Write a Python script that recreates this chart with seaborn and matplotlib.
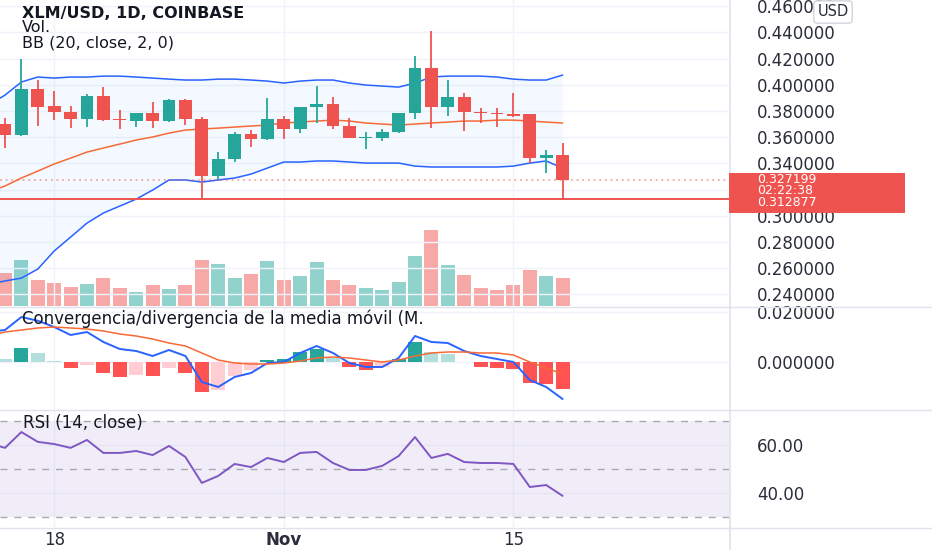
import numpy as np
import pandas as pd
import matplotlib
matplotlib.use("Agg")
import matplotlib.pyplot as plt
import seaborn as sns
from matplotlib.lines import Line2D
from matplotlib.patches import Rectangle

# ---------------- data ----------------
dates = [d.strftime("%Y-%m-%d") for d in pd.date_range("2021-10-15", "2021-11-18")]
ind_dates = ["2021-10-14"] + dates          # indicator series start one day earlier

opens = [0.3700, 0.3616, 0.3967, 0.3837, 0.3792, 0.3738, 0.3914, 0.3738, 0.3723, 0.3784,
         0.3723, 0.3883, 0.3738, 0.3303, 0.3433, 0.3624, 0.3586, 0.3738, 0.3662, 0.3830,
         0.3853, 0.3685, 0.3593, 0.3593, 0.3639, 0.3784, 0.4127, 0.3830, 0.3906, 0.3792,
         0.3784, 0.3776, 0.3776, 0.3441, 0.3463]
highs = [0.3746, 0.4200, 0.4036, 0.3952, 0.3837, 0.3929, 0.3982, 0.3807, 0.3784, 0.3868,
         0.3890, 0.3890, 0.3753, 0.3486, 0.3639, 0.3654, 0.3898, 0.3761, 0.3830, 0.3990,
         0.3906, 0.3746, 0.3639, 0.3662, 0.3784, 0.4219, 0.4410, 0.4036, 0.3937, 0.3822,
         0.3822, 0.3937, 0.3776, 0.3502, 0.3555]
lows = [0.3517, 0.3610, 0.3685, 0.3731, 0.3670, 0.3677, 0.3723, 0.3662, 0.3677, 0.3670,
        0.3715, 0.3692, 0.3129, 0.3272, 0.3410, 0.3525, 0.3578, 0.3586, 0.3631, 0.3708,
        0.3662, 0.3593, 0.3509, 0.3570, 0.3631, 0.3738, 0.3670, 0.3761, 0.3647, 0.3708,
        0.3677, 0.3753, 0.3402, 0.3326, 0.3129]
closes = [0.3616, 0.3967, 0.3830, 0.3792, 0.3738, 0.3914, 0.3731, 0.3728, 0.3784, 0.3723,
          0.3883, 0.3738, 0.3303, 0.3433, 0.3624, 0.3586, 0.3738, 0.3662, 0.3830, 0.3853,
          0.3685, 0.3593, 0.3600, 0.3639, 0.3784, 0.4127, 0.3830, 0.3906, 0.3792, 0.3784,
          0.3776, 0.3761, 0.3441, 0.3463, 0.3272]
volume_m = [66, 92, 52, 46, 38, 44, 56, 36, 28, 42, 34, 42, 92, 84, 56, 64, 90, 52, 60, 88,
            52, 42, 36, 32, 48, 100, 152, 82, 62, 36, 32, 42, 72, 60, 56]

bb_upper = [0.3845, 0.3921, 0.4021, 0.4059, 0.4051, 0.4059, 0.4059, 0.4066, 0.4066, 0.4059,
            0.4051, 0.4043, 0.4036, 0.4036, 0.4043, 0.4043, 0.4036, 0.4028, 0.4013, 0.4028,
            0.4036, 0.4036, 0.4013, 0.3998, 0.3990, 0.3982, 0.4013, 0.4059, 0.4066, 0.4066,
            0.4066, 0.4059, 0.4043, 0.4036, 0.4036, 0.4074]
bb_basis = [0.3181, 0.3227, 0.3288, 0.3341, 0.3395, 0.3440, 0.3486, 0.3517, 0.3547, 0.3578,
            0.3601, 0.3631, 0.3654, 0.3662, 0.3669, 0.3677, 0.3685, 0.3692, 0.3708, 0.3715,
            0.3723, 0.3730, 0.3723, 0.3708, 0.3700, 0.3692, 0.3700, 0.3708, 0.3715, 0.3723,
            0.3723, 0.3730, 0.3730, 0.3723, 0.3715, 0.3708]
bb_lower = [0.2479, 0.2502, 0.2524, 0.2593, 0.2731, 0.2837, 0.2944, 0.3021, 0.3074, 0.3127,
            0.3196, 0.3273, 0.3273, 0.3257, 0.3273, 0.3288, 0.3318, 0.3364, 0.3410, 0.3410,
            0.3418, 0.3418, 0.3410, 0.3402, 0.3402, 0.3402, 0.3379, 0.3372, 0.3372, 0.3372,
            0.3372, 0.3372, 0.3379, 0.3402, 0.3418, 0.3364]

macd_line = [0.0120, 0.0128, 0.0180, 0.0165, 0.0140, 0.0108, 0.0120, 0.0080, 0.0052, 0.0044,
             0.0024, 0.0048, 0.0024, -0.0080, -0.0100, -0.0060, -0.0044, -0.0004, 0.0000, 0.0036,
             0.0064, 0.0036, -0.0004, -0.0020, -0.0020, 0.0016, 0.0104, 0.0080, 0.0076, 0.0044,
             0.0024, 0.0012, 0.0000, -0.0072, -0.0100, -0.0148]
macd_signal = [0.0104, 0.0120, 0.0128, 0.0136, 0.0140, 0.0136, 0.0132, 0.0124, 0.0112, 0.0104,
               0.0092, 0.0076, 0.0064, 0.0036, 0.0008, -0.0004, -0.0008, -0.0008, -0.0004, 0.0004,
               0.0016, 0.0020, 0.0016, 0.0008, 0.0000, 0.0008, 0.0024, 0.0036, 0.0040, 0.0040,
               0.0036, 0.0036, 0.0028, 0.0000, -0.0024, -0.0048]
macd_hist = [0.0020, 0.0012, 0.0056, 0.0036, 0.0004, -0.0024, -0.0012, -0.0044, -0.0060, -0.0052,
             -0.0056, -0.0024, -0.0044, -0.0120, -0.0112, -0.0056, -0.0032, 0.0008, 0.0012, 0.0040,
             0.0052, 0.0016, -0.0020, -0.0032, -0.0020, 0.0012, 0.0080, 0.0040, 0.0032, 0.0002,
             -0.0020, -0.0024, -0.0028, -0.0084, -0.0088, -0.0108]
rsi_values = [60.8, 58.8, 65.4, 61.3, 60.4, 58.8, 62.1, 56.7, 56.7, 57.5,
              55.8, 59.6, 55.0, 44.2, 47.1, 52.1, 50.8, 54.6, 52.9, 56.7,
              57.1, 52.5, 49.6, 49.6, 51.3, 55.4, 63.3, 54.6, 56.3, 52.9,
              52.5, 52.5, 52.1, 42.5, 43.3, 38.8]

price_ticks = [0.24, 0.26, 0.28, 0.30, 0.32, 0.34, 0.36, 0.38, 0.40, 0.42, 0.44, 0.46]
hidden_price_ticks = [0.32]   # covered by the last-price tag in the reference
macd_ticks = [0.0, 0.02]
rsi_ticks = [40, 60]
rsi_levels = [30, 50, 70]
date_tick_days = ["2021-10-18", "2021-11-01", "2021-11-15"]
date_tick_labels = ["18", "Nov", "15"]
last_price = 0.327199
countdown = "02:22:38"
marked_level = 0.312877

title_text = "XLM/USD, 1D, COINBASE"
vol_text = "Vol."
bb_text = "BB (20, close, 2, 0)"
macd_text = "Convergencia/divergencia de la media móvil (M."
rsi_text = "RSI (14, close)"
currency_text = "USD"

# ---------------- styling ----------------
sns.set_theme(style="white")
plt.rcParams["font.family"] = ["DejaVu Sans"]
plt.rcParams["axes.unicode_minus"] = False

GREEN, RED = "#26a69a", "#ef5350"
VOL_GREEN, VOL_RED = "#92d2cc", "#f7a9a7"
BLUE, ORANGE, PURPLE = "#2962FF", "#F76A35", "#7E57C2"
GRID, SEP, TXT = "#f0f3fa", "#e0e3eb", "#131722"

W, H = 932, 550
fig = plt.figure(figsize=(W / 100, H / 100), dpi=100)
fig.patch.set_facecolor("white")

def fx(px):
    return px / W

def fy(py):
    return 1 - py / H

pane_right = 729
ax_main = fig.add_axes([0, fy(306), fx(pane_right), 306 / H])
ax_macd = fig.add_axes([0, fy(409), fx(pane_right), 102 / H])
ax_rsi = fig.add_axes([0, fy(527), fx(pane_right), 117 / H])

x = np.arange(len(dates))
xi = np.arange(-1, len(dates))
tick_x = [dates.index(d) for d in date_tick_days]
day_px = 16.4
x_left = -5 / day_px
x_right = x_left + pane_right / day_px

o = np.array(opens); c = np.array(closes)
hgh = np.array(highs); lw_ = np.array(lows)
up = c >= o

# ---- main pane: volume overlay ----
ax_vol = ax_main.twinx()
ax_main.set_zorder(2)
ax_vol.set_zorder(1)
ax_main.patch.set_visible(False)
ax_vol.bar(x, volume_m, width=0.85, color=np.where(up, VOL_GREEN, VOL_RED), linewidth=0)
ax_vol.set_ylim(0, 612)
ax_vol.axis("off")

# ---- Bollinger bands ----
ax_main.fill_between(xi, bb_lower, bb_upper, color="#2196F3", alpha=0.05, linewidth=0)
sns.lineplot(x=xi, y=bb_upper, ax=ax_main, color=BLUE, linewidth=1.1, legend=False)
sns.lineplot(x=xi, y=bb_basis, ax=ax_main, color=ORANGE, linewidth=1.1, legend=False)
sns.lineplot(x=xi, y=bb_lower, ax=ax_main, color=BLUE, linewidth=1.1, legend=False)

# ---- candles ----
cc = np.where(up, GREEN, RED)
ax_main.vlines(x, lw_, hgh, colors=cc, linewidth=1.3, zorder=3)
body_bottom = np.minimum(o, c)
body_h = np.maximum(np.abs(c - o), 0.0008)
ax_main.bar(x, body_h, bottom=body_bottom, width=0.78, color=cc, linewidth=0, zorder=4)

ax_main.axhline(last_price, color=RED, linestyle=(0, (1.2, 2.5)), linewidth=1.1, alpha=0.6, zorder=2)
ax_main.axhline(marked_level, color=RED, linewidth=1.4, zorder=2)

ax_main.set_ylim(0.2311, 0.4647)
ax_main.set_yticks(price_ticks)
ax_main.set_yticklabels(["" if v in hidden_price_ticks else f"{v:.6f}" for v in price_ticks])

# ---- MACD pane ----
hist = np.array(macd_hist)
prev = np.concatenate([[hist[0]], hist[:-1]])
hist_colors = np.where(hist >= 0,
                       np.where(hist > prev, "#26A69A", "#B2DFDB"),
                       np.where(hist > prev, "#FFCDD2", "#FF5252"))
ax_macd.bar(xi, macd_hist, width=0.85, color=hist_colors, linewidth=0)
sns.lineplot(x=xi, y=macd_line, ax=ax_macd, color=BLUE, linewidth=1.4, legend=False)
sns.lineplot(x=xi, y=macd_signal, ax=ax_macd, color=ORANGE, linewidth=1.1, legend=False)
ax_macd.set_ylim(-0.0188, 0.0220)
ax_macd.set_yticks(macd_ticks)
ax_macd.set_yticklabels([f"{v:.6f}" for v in macd_ticks])

# ---- RSI pane ----
ax_rsi.axhspan(min(rsi_levels), max(rsi_levels), color=PURPLE, alpha=0.1, linewidth=0)
for lvl in rsi_levels:
    ax_rsi.axhline(lvl, color="#9598a1", linewidth=1, linestyle=(0, (5, 5)), alpha=0.8)
sns.lineplot(x=xi, y=rsi_values, ax=ax_rsi, color=PURPLE, linewidth=1.4, legend=False)
ax_rsi.set_ylim(25.83, 74.58)
ax_rsi.set_yticks(rsi_ticks)
ax_rsi.set_yticklabels([f"{v:.2f}" for v in rsi_ticks])

# ---- common axis styling ----
for ax in (ax_main, ax_macd, ax_rsi):
    ax.set_xlim(x_left, x_right)
    ax.set_xticks(tick_x)
    ax.grid(True, color=GRID, linewidth=1)
    ax.set_axisbelow(True)
    for s in ax.spines.values():
        s.set_visible(False)
    ax.yaxis.tick_right()
    ax.tick_params(axis="y", length=0, pad=20, labelsize=12, labelcolor="#2a2e39",
                   left=False, labelleft=False, right=False, labelright=True)
    ax.tick_params(axis="x", length=0, bottom=False, labelbottom=False)
    ax.set_xlabel("")
    ax.set_ylabel("")

ax_rsi.set_xticks(tick_x, date_tick_labels)
ax_rsi.tick_params(axis="x", labelbottom=True, pad=3, labelsize=12, labelcolor="#2a2e39")
ax_rsi.get_xticklabels()[1].set_fontweight("bold")

# ---- separators ----
for py in (306.5, 409.5, 527.5):
    fig.add_artist(Line2D([0, 1], [fy(py), fy(py)], transform=fig.transFigure, color=SEP, linewidth=1))
fig.add_artist(Line2D([fx(729.5), fx(729.5)], [0, 1], transform=fig.transFigure, color=SEP, linewidth=1.2))

# ---- legends / labels ----
fig.text(fx(22), fy(13), title_text, fontsize=11.5, fontweight="bold", color=TXT, va="center", ha="left")
fig.text(fx(22), fy(28), vol_text, fontsize=11.5, color=TXT, va="center", ha="left")
fig.text(fx(22), fy(42.5), bb_text, fontsize=11.5, color=TXT, va="center", ha="left")
fig.text(fx(22), fy(319), macd_text, fontsize=12, color=TXT, va="center", ha="left", zorder=6)
fig.text(fx(23), fy(423), rsi_text, fontsize=12, color=TXT, va="center", ha="left", zorder=6)

# ---- right-hand price scale decorations ----
fig.text(fx(833), fy(12), currency_text, fontsize=10.5, color="#2a2e39", ha="center", va="center", zorder=7,
         bbox=dict(boxstyle="round,pad=0.25", fc="white", ec="#d1d4dc", lw=1))
fig.add_artist(Rectangle((fx(729), fy(213)), fx(905) - fx(729), 40 / H, transform=fig.transFigure,
                         facecolor=RED, edgecolor="none", zorder=5))
for py, t in ((179.5, f"{last_price:.6f}"), (191, countdown), (202.5, f"{marked_level:.6f}")):
    fig.text(fx(757), fy(py), t, fontsize=9, color="white", ha="left", va="center", zorder=6)

fig.savefig("out.png", dpi=100, facecolor="white")
